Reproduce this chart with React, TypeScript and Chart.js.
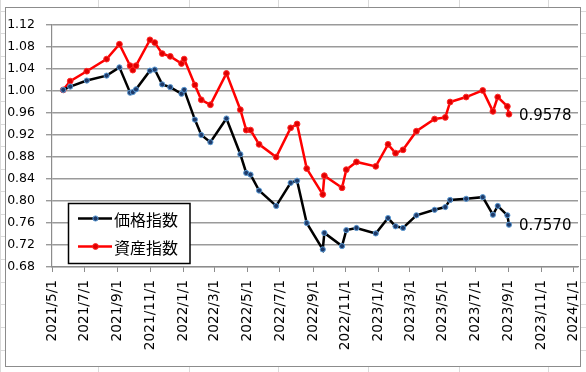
import React, { useEffect, useRef } from "react";
import { Chart, registerables } from "chart.js";

Chart.register(...registerables);

// ---- data ----
const tickLabels = [
  "2021/5/1", "2021/7/1", "2021/9/1", "2021/11/1", "2022/1/1", "2022/3/1",
  "2022/5/1", "2022/7/1", "2022/9/1", "2022/11/1", "2023/1/1", "2023/3/1",
  "2023/5/1", "2023/7/1", "2023/9/1", "2023/11/1", "2024/1/1",
];

const dates = [
  "2021/5/22", "2021/6/4", "2021/7/5", "2021/8/11", "2021/9/4", "2021/9/24",
  "2021/9/29", "2021/10/5", "2021/10/31", "2021/11/9", "2021/11/23", "2021/12/8",
  "2021/12/29", "2022/1/3", "2022/1/23", "2022/2/4", "2022/2/21", "2022/3/23",
  "2022/4/18", "2022/4/29", "2022/5/7", "2022/5/23", "2022/6/24", "2022/7/21",
  "2022/8/2", "2022/8/20", "2022/9/19", "2022/9/22", "2022/10/25", "2022/11/2",
  "2022/11/21", "2022/12/27", "2023/1/19", "2023/2/2", "2023/2/16", "2023/3/13",
  "2023/4/16", "2023/5/6", "2023/5/15", "2023/6/14", "2023/7/15", "2023/8/3",
  "2023/8/12", "2023/8/30", "2023/9/2",
];

const priceIndex = [
  1.002, 1.008, 1.019, 1.028, 1.043, 0.997,
  0.998, 1.003, 1.037, 1.039, 1.012, 1.007,
  0.995, 1.002, 0.948, 0.920, 0.907, 0.950,
  0.885, 0.851, 0.848, 0.819, 0.791, 0.833,
  0.837, 0.760, 0.712, 0.742, 0.718, 0.747,
  0.751, 0.741, 0.769, 0.754, 0.751, 0.774,
  0.784, 0.789, 0.802, 0.804, 0.807, 0.775,
  0.791, 0.774, 0.7570,
];

const assetIndex = [
  1.002, 1.018, 1.036, 1.058, 1.085, 1.046,
  1.038, 1.046, 1.093, 1.088, 1.068, 1.063,
  1.050, 1.058, 1.011, 0.984, 0.975, 1.032,
  0.966, 0.929, 0.929, 0.903, 0.880, 0.933,
  0.940, 0.859, 0.812, 0.846, 0.824, 0.857,
  0.871, 0.863, 0.903, 0.887, 0.893, 0.927,
  0.949, 0.952, 0.980, 0.989, 1.001, 0.963,
  0.989, 0.972, 0.9578,
];

const seriesNames = ["価格指数", "資産指数"];

// ---- helpers ----
const parseUTC = (s: string) => {
  const [y, m, d] = s.split("/").map(Number);
  return Date.UTC(y, m - 1, d);
};
const ORIGIN = parseUTC(tickLabels[0]);
const dayOf = (s: string) => Math.round((parseUTC(s) - ORIGIN) / 86400000);
const tickDays = tickLabels.map(dayOf);

const W = 586;
const H = 372;

const sheetPlugin = {
  id: "sheet",
  beforeDraw(chart: any) {
    const ctx = chart.ctx;
    ctx.save();
    ctx.fillStyle = "#ffffff";
    ctx.fillRect(0, 0, W, H);
    ctx.strokeStyle = "#dadada";
    ctx.lineWidth = 1;
    const cols = [0.5, 98.5, 189.5, 278.5, 368.5, 459.5, 548.5];
    cols.forEach((x) => {
      ctx.beginPath();
      ctx.moveTo(x, 0);
      ctx.lineTo(x, H);
      ctx.stroke();
    });
    for (let y = 10.5; y < H; y += 22.6) {
      ctx.beginPath();
      ctx.moveTo(0, Math.round(y) + 0.5);
      ctx.lineTo(W, Math.round(y) + 0.5);
      ctx.stroke();
    }
    // chart frame
    ctx.fillStyle = "#ffffff";
    ctx.fillRect(5, 7, 575, 359);
    ctx.strokeStyle = "#8c8c8c";
    ctx.lineWidth = 1;
    ctx.strokeRect(5.5, 7.5, 575, 359);
    ctx.restore();
  },
};

const overlayPlugin = {
  id: "overlay",
  afterDatasetsDraw(chart: any) {
    const ctx = chart.ctx;
    ctx.save();
    // end value labels
    ctx.font = "15px 'DejaVu Sans'";
    ctx.fillStyle = "#000";
    ctx.textAlign = "left";
    ctx.textBaseline = "middle";
    chart.data.datasets.forEach((ds: any, i: number) => {
      const meta = chart.getDatasetMeta(i);
      const last = meta.data[meta.data.length - 1];
      const v = ds.data[ds.data.length - 1].y;
      ctx.fillText(v.toFixed(4), last.x + 10, last.y + 1.5);
    });

    // legend box
    const bx = 68.5, by = 203.5, bw = 121.5, bh = 60;
    ctx.fillStyle = "#fff";
    ctx.fillRect(bx, by, bw, bh);
    ctx.strokeStyle = "#000";
    ctx.lineWidth = 1.5;
    ctx.strokeRect(bx, by, bw, bh);
    const rows = [218.5, 246.5];
    chart.data.datasets.forEach((ds: any, i: number) => {
      const y = rows[i];
      ctx.strokeStyle = ds.borderColor;
      ctx.lineWidth = 2.5;
      ctx.beginPath();
      ctx.moveTo(78, y);
      ctx.lineTo(112, y);
      ctx.stroke();
      ctx.beginPath();
      ctx.arc(95.5, y, ds.pointRadius, 0, Math.PI * 2);
      ctx.fillStyle = ds.pointBackgroundColor;
      ctx.fill();
      ctx.lineWidth = 1;
      ctx.strokeStyle = ds.pointBorderColor;
      ctx.stroke();
      ctx.fillStyle = "#000";
      ctx.font = "16px 'Noto Sans CJK JP'";
      ctx.textAlign = "left";
      ctx.textBaseline = "middle";
      ctx.fillText(ds.label, 114, y + 1);
    });
    ctx.restore();
  },
};

export default function App() {
  const ref = useRef<HTMLCanvasElement | null>(null);

  useEffect(() => {
    if (!ref.current) return;
    const xs = dates.map(dayOf);
    const chart = new Chart(ref.current, {
      type: "line",
      data: {
        datasets: [
          {
            label: seriesNames[0],
            data: xs.map((x, i) => ({ x, y: priceIndex[i] })),
            borderColor: "#000000",
            borderWidth: 2.5,
            pointRadius: 2.6,
            pointBackgroundColor: "#1f3a68",
            pointBorderColor: "#5b9bd5",
            pointBorderWidth: 1,
            tension: 0,
          },
          {
            label: seriesNames[1],
            data: xs.map((x, i) => ({ x, y: assetIndex[i] })),
            borderColor: "#ff0000",
            borderWidth: 2.5,
            pointRadius: 2.9,
            pointBackgroundColor: "#e00000",
            pointBorderColor: "#ff2a2a",
            pointBorderWidth: 1,
            tension: 0,
          },
        ],
      },
      options: {
        responsive: false,
        animation: false,
        events: [],
        layout: { padding: { left: 0, right: 8, top: 25, bottom: 0 } },
        plugins: {
          legend: { display: false },
          tooltip: { enabled: false },
        },
        scales: {
          x: {
            type: "linear",
            min: 0,
            max: 983,
            afterFit: (s: any) => {
              s.height = 105;
              s.paddingLeft = 0;
              s.paddingRight = 0;
            },
            afterBuildTicks: (s: any) => {
              s.ticks = tickDays.map((v) => ({ value: v }));
            },
            ticks: {
              autoSkip: false,
              minRotation: 90,
              maxRotation: 90,
              padding: 8,
              color: "#000",
              font: { family: "'DejaVu Sans'", size: 13.7 },
              callback: (v: any) => {
                const idx = tickDays.indexOf(Number(v));
                return idx >= 0 ? tickLabels[idx] : "";
              },
            },
            grid: {
              drawOnChartArea: false,
              drawTicks: true,
              tickLength: 5,
              color: "#8c8c8c",
              lineWidth: 1,
            },
            border: { display: true, color: "#8c8c8c", width: 1.2 },
          },
          y: {
            type: "linear",
            min: 0.68,
            max: 1.12,
            afterFit: (s: any) => {
              s.width = 52;
              s.paddingTop = 0;
              s.paddingBottom = 0;
            },
            ticks: {
              stepSize: 0.04,
              padding: 11,
              color: "#000",
              font: { family: "'DejaVu Sans'", size: 12.5 },
              callback: (v: any) => Number(v).toFixed(2),
            },
            grid: {
              color: "#9a9a9a",
              lineWidth: 1.4,
              tickLength: 6,
              drawTicks: true,
            },
            border: { display: true, color: "#8c8c8c", width: 1.2 },
          },
        },
      },
      plugins: [sheetPlugin, overlayPlugin],
    });
    return () => chart.destroy();
  }, []);

  return (
    <div style={{ position: "absolute", left: 0, top: 0, width: W, height: H }}>
      <canvas ref={ref} width={W} height={H} style={{ width: W, height: H, display: "block" }} />
    </div>
  );
}
